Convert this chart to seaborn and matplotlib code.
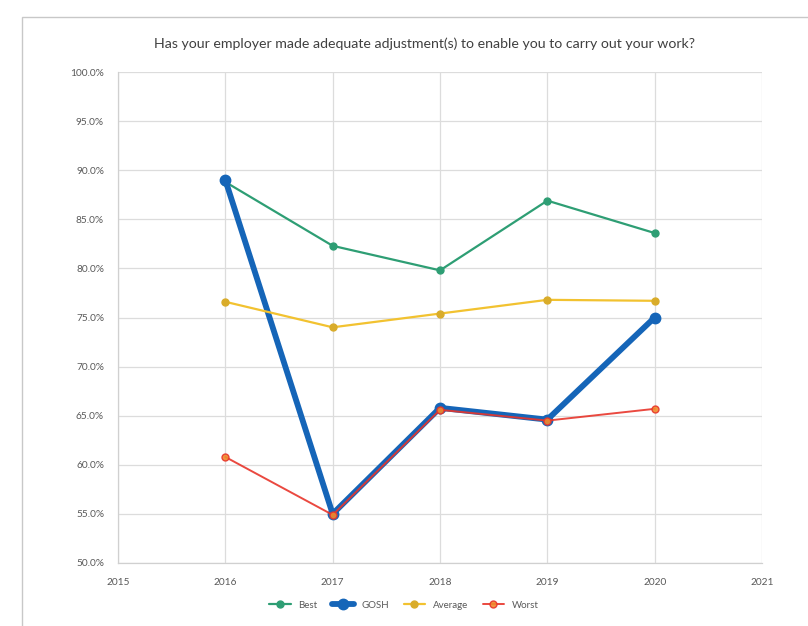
import matplotlib
matplotlib.use("Agg")
import matplotlib.pyplot as plt
import matplotlib.ticker as mticker
from matplotlib.patches import Rectangle
import seaborn as sns
import pandas as pd

years = [2016, 2017, 2018, 2019, 2020]
best = [88.8, 82.3, 79.8, 86.9, 83.6]
gosh = [89.0, 55.0, 65.8, 64.6, 75.0]
average = [76.6, 74.0, 75.4, 76.8, 76.7]
worst = [60.8, 54.9, 65.6, 64.5, 65.7]
series_names = ["Best", "GOSH", "Average", "Worst"]
title = "Has your employer made adequate adjustment(s) to enable you to carry out your work?"

sns.set_theme(style="white")
plt.rcParams['font.family'] = ['Lato', 'DejaVu Sans']

fig = plt.figure(figsize=(8.08, 6.26), dpi=100)
ax = fig.add_axes([118/808, 1-563/626, (762-118)/808, (563-72)/626])

# outer frame of the chart area
fig.patches.append(Rectangle((22/808, -0.01), 1.0, 1 - 17/626 + 0.01, transform=fig.transFigure,
                             fill=False, edgecolor="#c8c8c8", linewidth=1.0))

styles = {
    "Best": dict(color="#2e9e74", lw=1.6, ms=5, mfc="#2e9e74", mec="#2e9e74", alpha=1.0),
    "GOSH": dict(color="#1565b8", lw=4.2, ms=7.5, mfc="#1565b8", mec="#1565b8", alpha=1.0),
    "Average": dict(color="#f2c230", lw=1.6, ms=5, mfc="#d9ac2a", mec="#d9ac2a", alpha=1.0),
    "Worst": dict(color="#e8352b", lw=1.4, ms=5, mfc="#f08a2c", mec="#e8352b", alpha=0.9),
}
data = {"Best": best, "GOSH": gosh, "Average": average, "Worst": worst}

for name in series_names:
    df = pd.DataFrame({"Year": years, "Value": data[name]})
    s = styles[name]
    sns.lineplot(data=df, x="Year", y="Value", ax=ax, color=s["color"], linewidth=s["lw"],
                 marker="o", markersize=s["ms"], markerfacecolor=s["mfc"],
                 markeredgecolor=s["mec"], markeredgewidth=1.0, label=name, zorder=3,
                 alpha=s["alpha"])

ax.set_xlim(2015, 2021)
ax.set_ylim(50, 100)
ax.set_xticks(range(2015, 2022))
ax.set_yticks(range(50, 101, 5))
ax.yaxis.set_major_formatter(mticker.FuncFormatter(lambda v, p: f"{v:.1f}%"))
ax.set_xlabel("")
ax.set_ylabel("")
ax.grid(True, color="#dcdcdc", linewidth=0.9)
for sp in ["top", "right"]:
    ax.spines[sp].set_visible(False)
for sp in ["left", "bottom"]:
    ax.spines[sp].set_color("#d0d0d0")
    ax.spines[sp].set_linewidth(0.9)
ax.tick_params(axis="both", labelsize=7.3, colors="#595959", length=0)
ax.tick_params(axis="x", pad=11)
ax.tick_params(axis="y", pad=10)

fig.text(425/808, 1 - 44/626, title, ha="center", va="center", fontsize=10.2, color="#404040")

leg = ax.legend(loc="center", bbox_to_anchor=(0.5, 1 - 605/626), bbox_transform=fig.transFigure,
                ncol=4, frameon=False, fontsize=7, handlelength=2.2, columnspacing=1.5,
                labelcolor="#595959")

fig.savefig("out.png", dpi=100, facecolor="white")
